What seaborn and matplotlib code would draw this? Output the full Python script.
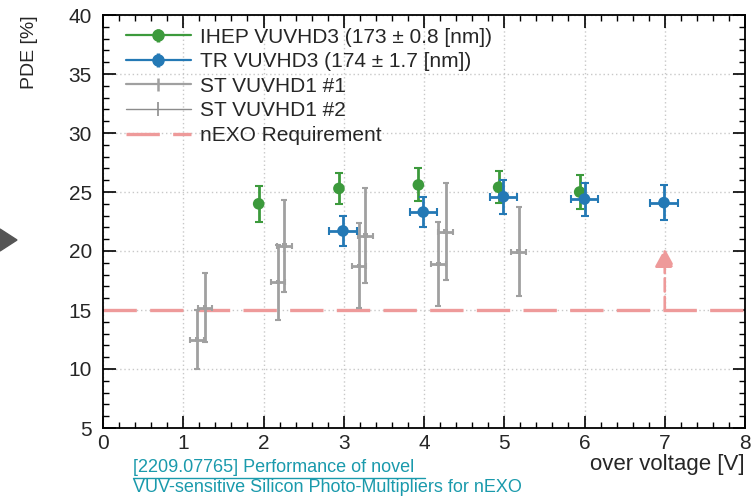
import matplotlib
matplotlib.use("Agg")
import matplotlib.pyplot as plt
import seaborn as sns
import numpy as np
import pandas as pd
from matplotlib.lines import Line2D
from matplotlib.patches import Polygon
from matplotlib.ticker import MultipleLocator
from matplotlib.container import ErrorbarContainer
from matplotlib.legend_handler import HandlerErrorbar

# ---------------- data ----------------
ihep_x = [1.94, 2.94, 3.93, 4.93, 5.94]
ihep_y = [24.0, 25.3, 25.6, 25.4, 25.0]
ihep_yerr = [1.5, 1.35, 1.4, 1.35, 1.4]

tr_x = [2.99, 3.99, 4.99, 6.0, 6.99]
tr_y = [21.7, 23.3, 24.6, 24.4, 24.1]
tr_yerr = [1.3, 1.3, 1.45, 1.4, 1.5]
tr_xerr = [0.17, 0.17, 0.17, 0.17, 0.17]

st1_x = [1.17, 2.18, 3.19, 4.18, 5.18]
st1_y = [12.5, 17.35, 18.75, 18.9, 19.95]
st1_yerr = [2.5, 3.2, 3.6, 3.6, 3.8]
st1_xerr = [0.09, 0.09, 0.09, 0.09, 0.09]

st2_x = [1.27, 2.26, 3.27, 4.27]
st2_y = [15.2, 20.45, 21.3, 21.65]
st2_yerr = [2.9, 3.9, 4.0, 4.1]
st2_xerr = [0.09, 0.09, 0.09, 0.09]

requirement = 15.0
arrow_x = 7.0
arrow_top = 20.2

labels = ["IHEP VUVHD3 (173 \u00b1 0.8 [nm])", "TR VUVHD3 (174 \u00b1 1.7 [nm])",
          "ST VUVHD1 #1", "ST VUVHD1 #2", "nEXO Requirement"]

# ---------------- styling ----------------
sns.set_theme(style="ticks")
plt.rcParams['font.family'] = ['Liberation Sans', 'DejaVu Sans']

GREEN = "#3c9a3c"
BLUE = "#2479b5"
GRAY1 = "#a0a0a0"
GRAY2 = "#8c8c8c"
RED = "#ee9a9a"

fig = plt.figure(figsize=(7.54, 4.97), dpi=100)
ax = fig.add_axes([103/754, 1-428/497, (745-103)/754, (428-15)/497])

# requirement line
ax.axhline(requirement, color=RED, lw=2.4, dashes=(10, 4), zorder=2)
ax.annotate("", xy=(arrow_x, arrow_top), xytext=(arrow_x, requirement),
            arrowprops=dict(arrowstyle="-|>,head_length=0.55,head_width=0.3",
                            mutation_scale=20, shrinkA=0, shrinkB=0,
                            color=RED, lw=1.9, linestyle=(0, (5, 2))), zorder=2)

# ST series
e3 = ax.errorbar(st1_x, st1_y, yerr=st1_yerr, xerr=st1_xerr, fmt='none',
                 ecolor=GRAY1, elinewidth=2.0, capsize=2.5, capthick=1.5, zorder=3)
e4 = ax.errorbar(st2_x, st2_y, yerr=st2_yerr, xerr=st2_xerr, fmt='none',
                 ecolor=GRAY1, elinewidth=2.0, capsize=2.5, capthick=1.5, zorder=3)
st_df = pd.DataFrame({"x": st1_x + st2_x, "y": st1_y + st2_y})
sns.scatterplot(data=st_df, x="x", y="y", ax=ax, color=GRAY1, s=10,
                marker='s', edgecolor="none", legend=False, zorder=3)

# IHEP
e1 = ax.errorbar(ihep_x, ihep_y, yerr=ihep_yerr, fmt='none', ecolor=GREEN,
                 elinewidth=2.0, capsize=3, capthick=1.5, zorder=4)
sns.scatterplot(x=ihep_x, y=ihep_y, ax=ax, color=GREEN, s=70,
                edgecolor="none", legend=False, zorder=4)

# TR
e2 = ax.errorbar(tr_x, tr_y, yerr=tr_yerr, xerr=tr_xerr, fmt='none', ecolor=BLUE,
                 elinewidth=2.0, capsize=3, capthick=1.5, zorder=5)
sns.scatterplot(x=tr_x, y=tr_y, ax=ax, color=BLUE, s=70,
                edgecolor="none", legend=False, zorder=5)

# axes
ax.set_xlim(0, 8)
ax.set_ylim(5, 40)
ax.xaxis.set_major_locator(MultipleLocator(1))
ax.xaxis.set_minor_locator(MultipleLocator(0.2))
ax.yaxis.set_major_locator(MultipleLocator(5))
ax.yaxis.set_minor_locator(MultipleLocator(1))
ax.tick_params(which='both', direction='in', top=True, right=True, color='black')
ax.tick_params(which='major', length=9, width=1.2, labelsize=15)
ax.tick_params(axis='y', which='major', pad=8)
ax.tick_params(axis='x', which='major', pad=4)
ax.tick_params(which='minor', length=4.5, width=1.0)
for s in ax.spines.values():
    s.set_linewidth(1.3)
    s.set_color('black')
ax.grid(True, which='major', color='#c8c8c8', ls=(0, (1, 2)), lw=1.0, zorder=0)
ax.set_axisbelow(True)

ax.set_xlabel("over voltage [V]", fontsize=16, loc='right', labelpad=1)
ax.set_ylabel("PDE [%]", fontsize=14, loc='top', labelpad=22)

# legend handles (vertical error bar + marker + horizontal line)
def leg_err(color, lw, cap, ms=None):
    c = ax.errorbar([], [], yerr=[], fmt='o' if ms else 'none', color=color, ms=ms or 0,
                    ecolor=color, elinewidth=lw, capsize=cap, capthick=1.5)
    return c

l1 = leg_err(GREEN, 2.5, 3.5, 8)
l2 = leg_err(BLUE, 2.5, 3.5, 8)
l3 = leg_err(GRAY1, 1.8, 3)
l4 = leg_err(GRAY2, 1.2, 3)
h_green = (Line2D([], [], color=GREEN, lw=1.6), l1)
h_blue = (Line2D([], [], color=BLUE, lw=1.6), l2)
h_st1 = (Line2D([], [], color=GRAY1, lw=1.6), l3)
h_st2 = (Line2D([], [], color=GRAY2, lw=1.0), l4)
h_req = Line2D([], [], color=RED, lw=2.4, dashes=(10, 4))
ax.legend([h_green, h_blue, h_st1, h_st2, h_req], labels,
          loc='upper left', bbox_to_anchor=(0.013, 1.005), frameon=False,
          fontsize=15, handlelength=3.1, handletextpad=0.45, labelspacing=0.27,
          borderaxespad=0.3,
          handler_map={ErrorbarContainer: HandlerErrorbar(xerr_size=0.3, yerr_size=0.32)})

# left triangle marker from slide
fig.patches.append(Polygon([[0/754, 1-229/497], [17/754, 1-240/497], [0/754, 1-251/497]],
                           closed=True, transform=fig.transFigure, color='#555555'))

# reference link text
LINK = "#1a9aac"
fig.text(133/754, 1-467/497, "[2209.07765] Performance of novel", color=LINK,
         fontsize=13, va='center', ha='left')
fig.text(133/754, 1-488/497, "VUV-sensitive Silicon Photo-Multipliers for nEXO", color=LINK,
         fontsize=13, va='center', ha='left')
fig.lines.append(Line2D([133/754, 425/754], [1-477.5/497, 1-477.5/497], color=LINK, lw=1.0,
                        transform=fig.transFigure))

fig.savefig("out.png", dpi=100)
